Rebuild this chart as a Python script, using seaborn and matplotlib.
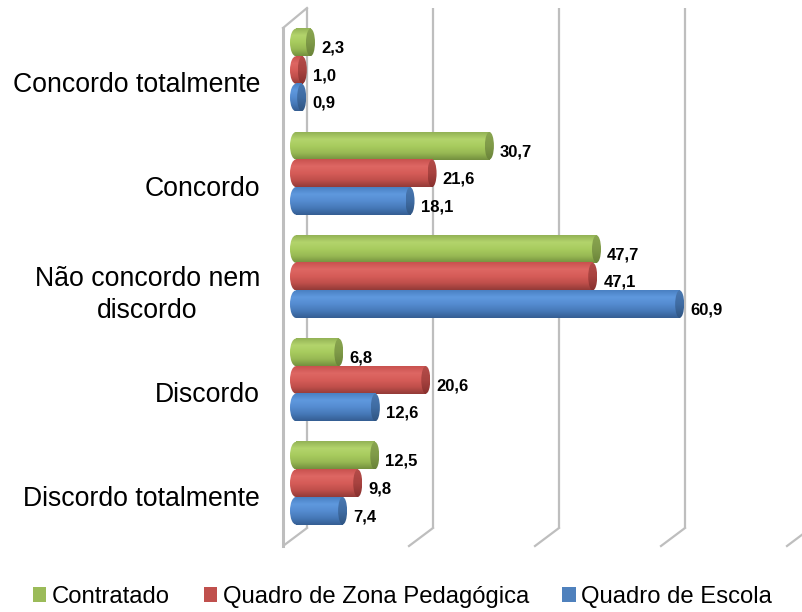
import numpy as np
import pandas as pd
import seaborn as sns
import matplotlib.pyplot as plt
from matplotlib.colors import LinearSegmentedColormap
from matplotlib.patches import Ellipse

categories = ["Concordo totalmente", "Concordo", "Não concordo nem\ndiscordo", "Discordo", "Discordo totalmente"]
series_names = ["Contratado", "Quadro de Zona Pedagógica", "Quadro de Escola"]
contratado = [2.3, 30.7, 47.7, 6.8, 12.5]
zona = [1.0, 21.6, 47.1, 20.6, 9.8]
escola = [0.9, 18.1, 60.9, 12.6, 7.4]
grid_ticks = [0, 20, 40, 60, 80]

colors = ["#9BBB59", "#C0504D", "#4F81BD"]
body_ramps = [
    ["#93B255", "#B3D46C", "#A8CC5E", "#98B954", "#74903F"],
    ["#C9524F", "#DE6763", "#D65C58", "#C04F4B", "#933B38"],
    ["#4A80C2", "#5F99DE", "#558CD0", "#4679B8", "#355E93"],
]
cap_ramps = [
    ["#8AA650", "#7F9A48", "#6A8339"],
    ["#B44C49", "#A84340", "#88302E"],
    ["#4A78B0", "#3F6CA3", "#305582"],
]

df = pd.DataFrame({"cat": categories, series_names[0]: contratado,
                   series_names[1]: zona, series_names[2]: escola})
df = df.melt(id_vars="cat", var_name="grupo", value_name="valor")

plt.rcParams["font.family"] = ["Liberation Sans", "DejaVu Sans"]

W, H = 803, 612
px = 6.3  # pixels per unit on the value axis
fig = plt.figure(figsize=(W / 100, H / 100), dpi=100)
ax = fig.add_axes([283 / W, 0, (W - 283) / W, 1])

sns.barplot(data=df, y="cat", x="valor", hue="grupo", hue_order=series_names,
            palette=colors, width=0.8, gap=0, saturation=1, orient="h", ax=ax, legend=True)

xlim = ((283 - 296) / px, (W - 296) / px)
ylim = ((H - 70) / 103.3, -70 / 103.3)


def gradient(x0, x1, y0, y1, ramp, clip=None):
    cmap = LinearSegmentedColormap.from_list("r", ramp)
    im = ax.imshow(np.linspace(0, 1, 64).reshape(-1, 1), cmap=cmap, aspect="auto",
                   extent=(x0, x1, y1, y0), zorder=3, interpolation="bilinear")
    if clip is not None:
        ax.add_patch(clip)
        clip.set_visible(False)
        im.set_clip_path(clip)


# 3D-looking walls
back, front = 11 / px, -13 / px
top_back, top_front = -62 / 103.3, -42 / 103.3
bot_back, bot_front = (528 - 70) / 103.3, (546 - 70) / 103.3
for i, t in enumerate(grid_ticks):
    ax.plot([t + back, t + back], [top_back, bot_back], color="#BEBEBE", lw=1.6, zorder=1, solid_capstyle="butt")
    ax.plot([t + back, t + front], [bot_back, bot_front], color="#BEBEBE", lw=1.6, zorder=1)
ax.plot([front, front], [top_front, bot_front], color="#BEBEBE", lw=2.2, zorder=1, clip_on=False)
ax.plot([front, back], [top_front, top_back], color="#BEBEBE", lw=1.6, zorder=1, clip_on=False)

# cylinders over the seaborn bars
hw_left = 6 / px
hw = 4.5 / px
for container, ramp, cap, vals in zip(ax.containers, body_ramps, cap_ramps, [contratado, zona, escola]):
    for bar, v in zip(container, vals):
        y = bar.get_y()
        h = bar.get_height()
        yc = y + h / 2
        bar.set_visible(False)
        gradient(0, v, y, y + h, ramp)
        gradient(-hw_left, 0, y, y + h, ramp, Ellipse((0, yc), 2 * hw_left, h, transform=ax.transData))
        gradient(v - hw, v + hw, y, y + h, cap, Ellipse((v, yc), 2 * hw, h, transform=ax.transData))
        ax.annotate(f"{v:.1f}".replace(".", ","), (v, yc), xytext=(7.6, -4.2), textcoords="offset points",
                    ha="left", va="center", fontsize=12, fontweight="bold", color="black", zorder=4)

ax.set_xlim(xlim)
ax.set_ylim(ylim)
ax.set_yticks(np.arange(len(categories)) + 0.12)
ax.set_yticklabels(categories, multialignment="center", fontsize=19.2, linespacing=1.3)
ax.set_xticks([])
ax.set_xlabel("")
ax.set_ylabel("")
ax.tick_params(axis="y", length=0, pad=16.5)
sns.despine(ax=ax, left=True, bottom=True)

leg_handles, leg_labels = ax.get_legend_handles_labels()
ax.legend(leg_handles, leg_labels, ncol=3, frameon=False, fontsize=17.2, loc="center left",
          bbox_to_anchor=(33 / W, 15 / H), bbox_transform=fig.transFigure,
          handlelength=0.55, handleheight=0.55, handletextpad=0.25, columnspacing=1.4, borderpad=0, borderaxespad=0)

fig.savefig("out.png", dpi=100)
